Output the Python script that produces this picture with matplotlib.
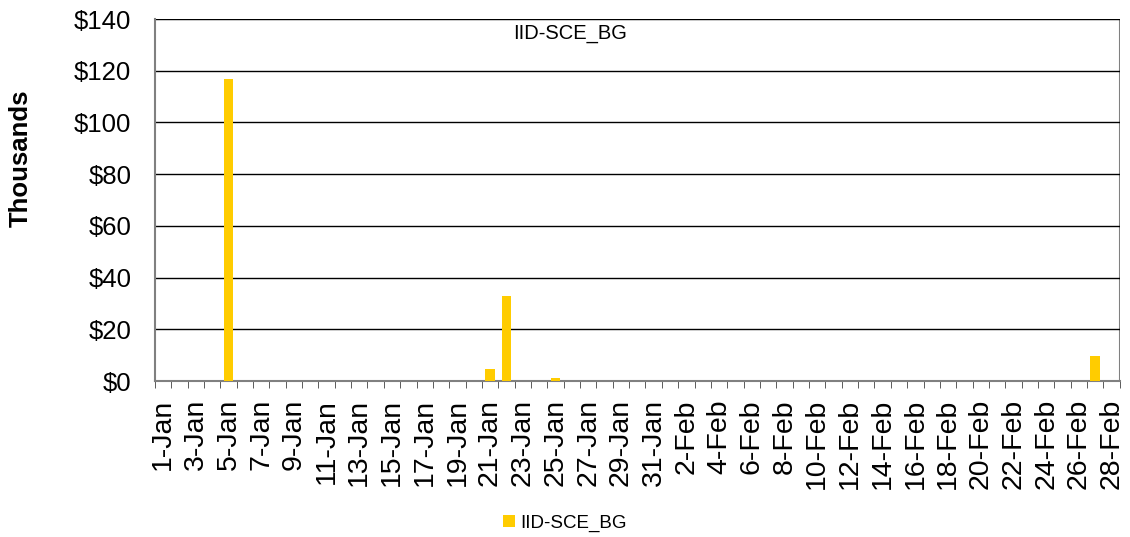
import matplotlib.pyplot as plt
import numpy as np
import pandas as pd

plt.rcParams["font.family"] = ["Liberation Sans", "DejaVu Sans"]

# daily values, thousands of dollars
days = pd.date_range("2011-01-01", "2011-02-28", freq="D")
day_labels = [f"{d.day}-{d.strftime('%b')}" for d in days]
nonzero = {"5-Jan": 117.0, "21-Jan": 4.5, "22-Jan": 32.9, "25-Jan": 1.2, "27-Feb": 9.7}
values = [nonzero.get(lbl, 0.0) for lbl in day_labels]
series_name = "IID-SCE_BG"
y_ticks = [0, 20, 40, 60, 80, 100, 120, 140]


def main() -> None:
    fig = plt.figure(figsize=(11.3, 5.37), dpi=100)
    ax = fig.add_axes([0.137, 0.2905, 0.854, 0.674])

    x = np.arange(len(values))
    ax.bar(x, values, width=0.6, color="#FFCC00", label=series_name, zorder=3)

    ax.set_xlim(-0.5, len(values) - 0.5)
    ax.set_ylim(0, 140)
    ax.set_yticks(y_ticks)
    ax.set_yticklabels([f"${v}" for v in y_ticks], fontsize=18.5)
    ax.yaxis.grid(True, color="black", linewidth=1.0, zorder=0)
    ax.tick_params(axis="y", length=0, pad=17)

    ax.set_xticks(x[::2])
    ax.set_xticklabels(day_labels[::2], rotation=90, fontsize=20.5)
    ax.set_xticks(np.arange(len(values) + 1) - 0.5, minor=True)
    ax.tick_params(axis="x", which="major", length=0, pad=13)
    ax.tick_params(axis="x", which="minor", length=5, direction="out", color="#404040")

    for s in ["top", "right"]:
        ax.spines[s].set_visible(False)
    for s in ["left", "bottom"]:
        ax.spines[s].set_color("#808080")
        ax.spines[s].set_linewidth(1.5)
    ax.axhline(140, color="#808080", linewidth=1.5, zorder=1)
    ax.axvline(len(values) - 0.5, color="#808080", linewidth=1.5, zorder=1)

    ax.set_ylabel("Thousands", fontsize=18.5, fontweight="bold")
    ax.yaxis.set_label_coords(-0.126, 0.616)
    ax.text(0.43, 0.985, series_name, transform=ax.transAxes, ha="center", va="top", fontsize=14.5)

    fig.legend(loc="lower center", bbox_to_anchor=(0.5, -0.022), frameon=False,
               fontsize=13.5, handlelength=0.6, handleheight=0.6, handletextpad=0.3)

    fig.savefig("out.png", dpi=100)


if __name__ == "__main__":
    main()
